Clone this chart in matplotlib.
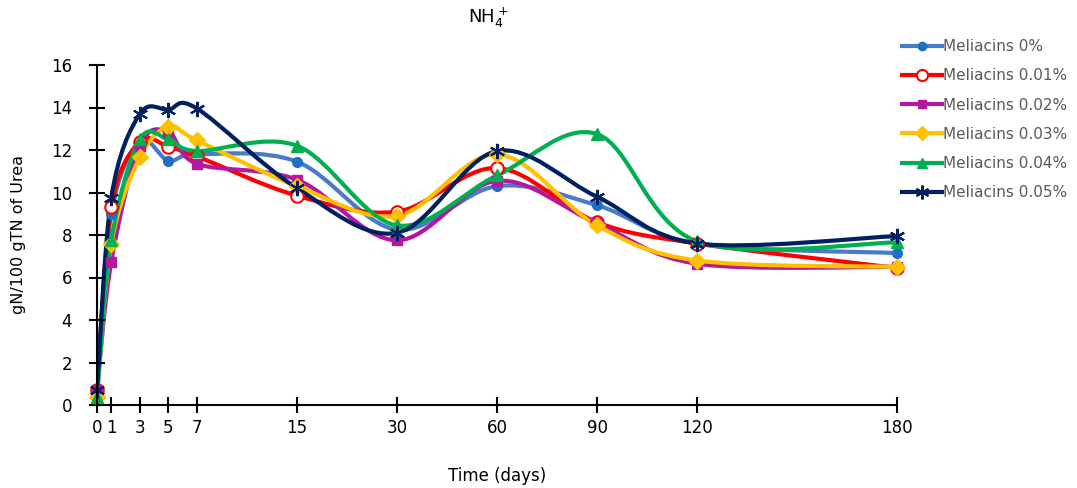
import numpy as np
import matplotlib
matplotlib.use('Agg')
import matplotlib.pyplot as plt
from matplotlib.path import Path
from matplotlib.patches import PathPatch
from matplotlib.lines import Line2D

days = [0, 1, 3, 5, 7, 15, 30, 60, 90, 120, 180]

mel_0 = [0.7, 9.0, 12.4, 11.5, 11.8, 11.45, 8.25, 10.3, 9.4, 7.6, 7.15]
mel_001 = [0.7, 9.3, 12.4, 12.15, 11.7, 9.85, 9.1, 11.15, 8.6, 7.6, 6.45]
mel_002 = [0.7, 6.75, 12.2, 12.85, 11.35, 10.6, 7.75, 10.55, 8.55, 6.65, 6.5]
mel_003 = [0.4, 7.6, 11.65, 13.1, 12.45, 10.3, 8.9, 11.8, 8.45, 6.8, 6.5]
mel_004 = [0.4, 7.75, 12.5, 12.5, 11.95, 12.2, 8.45, 10.8, 12.75, 7.7, 7.65]
mel_005 = [0.7, 9.75, 13.7, 13.9, 13.95, 10.2, 8.1, 11.95, 9.8, 7.6, 7.95]

labels = ['Meliacins 0%', 'Meliacins 0.01%', 'Meliacins 0.02%',
          'Meliacins 0.03%', 'Meliacins 0.04%', 'Meliacins 0.05%']
series = [mel_0, mel_001, mel_002, mel_003, mel_004, mel_005]

# piecewise axis: days -> drawing units
brk_days = [0, 7, 15, 30, 60, 90, 120, 180]
brk_pos = [0, 1, 2, 3, 4, 5, 6, 8]


def fwd(d):
    return np.interp(d, brk_days, brk_pos)


def inv(p):
    return np.interp(p, brk_pos, brk_days)


def smooth_verts(x, y):
    pts = np.column_stack([fwd(np.asarray(x, float)), np.asarray(y, float)])
    n = len(pts)
    verts = [pts[0]]
    codes = [Path.MOVETO]
    for i in range(n - 1):
        p0 = pts[max(i - 1, 0)]
        p1 = pts[i]
        p2 = pts[i + 1]
        p3 = pts[min(i + 2, n - 1)]
        verts += [p1 + (p2 - p0) / 6, p2 - (p3 - p1) / 6, p2]
        codes += [Path.CURVE4] * 3
    verts = np.array(verts)
    verts[:, 0] = inv(verts[:, 0])
    return Path(verts, codes)


styles = [
    dict(color='#4A7BCB', marker='o', mfc='#1F6FC5', mec='#1F6FC5', ms=7),
    dict(color='#FF0000', marker='o', mfc='white', mec='#FF0000', ms=9, mew=1.5),
    dict(color='#B5179E', marker='s', mfc='#B5179E', mec='#B5179E', ms=7),
    dict(color='#FFC000', marker='D', mfc='#FFC000', mec='#FFC000', ms=8),
    dict(color='#00B050', marker='^', mfc='#00B050', mec='#00B050', ms=8),
    dict(color='#002060', marker=(6, 2, 0), mfc='#002060', mec='#002060', ms=11, mew=1.5),
]

fig = plt.figure(figsize=(10.77, 4.88), dpi=100)
ax = fig.add_axes([97 / 1077, 1 - 405 / 488, 800 / 1077, 340 / 488])
ax.set_xscale('function', functions=(fwd, inv))
ax.set_xlim(0, 180)
ax.set_ylim(0, 16)

handles = []
for vals, st, lab in zip(series, styles, labels):
    ax.add_patch(PathPatch(smooth_verts(days, vals), fill=False, edgecolor=st['color'],
                           lw=3, capstyle='round', joinstyle='round'))
    ax.plot(days, vals, linestyle='none', marker=st['marker'], mfc=st['mfc'],
            mec=st['mec'], ms=st['ms'], mew=st.get('mew', 1), clip_on=False)
    handles.append(Line2D([], [], color=st['color'], lw=3, marker=st['marker'],
                          mfc=st['mfc'], mec=st['mec'], ms=st['ms'] - 1,
                          mew=st.get('mew', 1)))

ax.spines['top'].set_visible(False)
ax.spines['right'].set_visible(False)
for s in ['left', 'bottom']:
    ax.spines[s].set_linewidth(1.5)

ax.set_xticks(days)
ax.set_xticklabels([str(d) for d in days], fontsize=12)
ax.set_yticks(range(0, 17, 2))
ax.tick_params(axis='y', direction='inout', length=12, width=1.5, labelsize=12, pad=12)
ax.tick_params(axis='x', direction='inout', length=12, width=1.5, pad=4)

ax.set_xlabel('Time (days)', fontsize=12, labelpad=22)
ax.set_ylabel('gN/100 gTN of Urea', fontsize=11.5, labelpad=18)
fig.text(488 / 1077, 1 - 18 / 488, r'NH$_4^+$', fontsize=13, ha='center', va='center')

leg = fig.legend(handles, labels, loc='upper left', bbox_to_anchor=(896 / 1077, 1 - 33 / 488),
                 frameon=False, fontsize=11, handlelength=2.6, handletextpad=0.05,
                 labelspacing=0.93, borderaxespad=0)
for t in leg.get_texts():
    t.set_color('#595959')

fig.savefig('out.png', dpi=100)
